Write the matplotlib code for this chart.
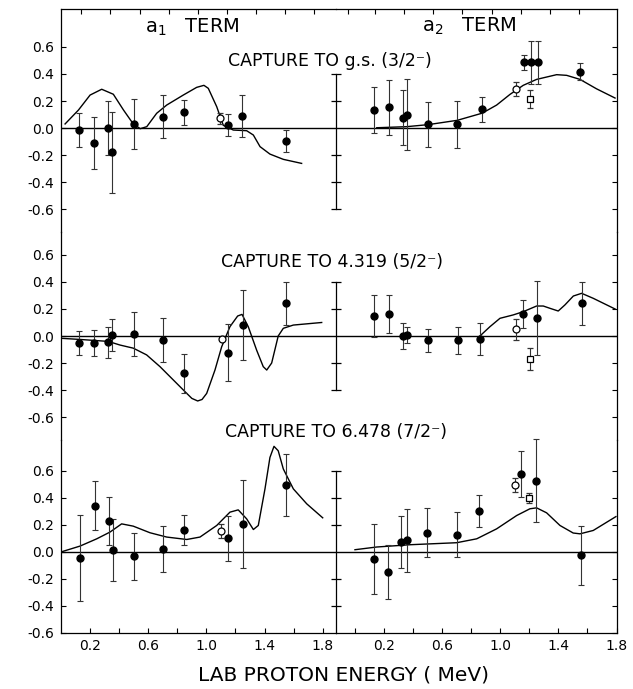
import matplotlib.pyplot as plt
import numpy as np

#*********************************************************************************
# values (energy in MeV, coefficient)
# --- capture to g.s. (3/2-) ---
gs_a1_E   = [0.124, 0.229, 0.325, 0.353, 0.502, 0.699, 0.846, 1.149, 1.247, 1.547]
gs_a1_y   = [-0.015, -0.11, 0.0, -0.18, 0.027, 0.084, 0.116, 0.025, 0.089, -0.096]
gs_a1_err = [0.125, 0.195, 0.2, 0.3, 0.185, 0.16, 0.09, 0.082, 0.152, 0.08]
gs_a1_oE, gs_a1_oy, gs_a1_oerr = [1.094], [0.072], [0.04]
gs_a1_sE, gs_a1_sy, gs_a1_serr = [], [], []
gs_a1_cE = [0.028, 0.12, 0.2, 0.28, 0.36, 0.43, 0.497, 0.545, 0.59, 0.658, 0.727, 0.841,
            0.933, 0.983, 1.013, 1.071, 1.116, 1.185, 1.277, 1.323, 1.369, 1.437, 1.529, 1.655]
gs_a1_cy = [0.03, 0.133, 0.244, 0.287, 0.25, 0.133, 0.03, -0.005, 0.01, 0.109, 0.17, 0.244,
            0.301, 0.316, 0.294, 0.158, 0.02, -0.015, -0.02, -0.052, -0.138, -0.193, -0.232, -0.262]

gs_a2_E   = [0.133, 0.236, 0.33, 0.356, 0.504, 0.704, 0.876, 1.165, 1.209, 1.257, 1.549]
gs_a2_y   = [0.133, 0.153, 0.077, 0.1, 0.027, 0.027, 0.138, 0.487, 0.487, 0.487, 0.417]
gs_a2_err = [0.168, 0.205, 0.205, 0.26, 0.168, 0.175, 0.092, 0.055, 0.158, 0.158, 0.062]
gs_a2_oE, gs_a2_oy, gs_a2_oerr = [1.106], [0.289], [0.05]
gs_a2_sE, gs_a2_sy, gs_a2_serr = [1.204], [0.212], [0.066]
gs_a2_cE = [0.15, 0.356, 0.504, 0.704, 0.876, 0.975, 1.067, 1.158, 1.25, 1.388, 1.457,
            1.549, 1.663, 1.79]
gs_a2_cy = [0.002, 0.01, 0.025, 0.057, 0.11, 0.17, 0.249, 0.316, 0.36, 0.395, 0.39,
            0.36, 0.29, 0.222]

# --- capture to 4.319 (5/2-) ---
s4_a1_E   = [0.124, 0.229, 0.325, 0.353, 0.502, 0.699, 0.848, 1.151, 1.25, 1.545]
s4_a1_y   = [-0.054, -0.054, -0.047, 0.007, 0.015, -0.03, -0.277, -0.123, 0.081, 0.242]
s4_a1_err = [0.09, 0.095, 0.113, 0.117, 0.163, 0.162, 0.143, 0.21, 0.26, 0.16]
s4_a1_oE, s4_a1_oy, s4_a1_oerr = [1.109], [-0.022], [0.0]
s4_a1_sE, s4_a1_sy, s4_a1_serr = [], [], []
s4_a1_cE = [0.0, 0.124, 0.325, 0.406, 0.497, 0.589, 0.681, 0.772, 0.865, 0.9, 0.94, 0.97,
            1.002, 1.059, 1.105, 1.162, 1.215, 1.245, 1.288, 1.346, 1.391, 1.415, 1.449,
            1.494, 1.529, 1.598, 1.793]
s4_a1_cy = [-0.017, -0.025, -0.04, -0.067, -0.09, -0.14, -0.227, -0.325, -0.425, -0.462, -0.481, -0.47,
            -0.425, -0.252, -0.08, 0.069, 0.148, 0.16, 0.069, -0.106, -0.227, -0.252, -0.2,
            0.0, 0.057, 0.081, 0.1]

s4_a2_E   = [0.133, 0.236, 0.33, 0.358, 0.504, 0.707, 0.86, 1.154, 1.253, 1.562]
s4_a2_y   = [0.148, 0.163, 0.0, 0.005, -0.03, -0.03, -0.022, 0.163, 0.131, 0.242]
s4_a2_err = [0.155, 0.143, 0.097, 0.058, 0.085, 0.1, 0.118, 0.103, 0.275, 0.16]
s4_a2_oE, s4_a2_oy, s4_a2_oerr = [1.108], [0.049], [0.075]
s4_a2_sE, s4_a2_sy, s4_a2_serr = [1.204], [-0.17], [0.084]
s4_a2_cE = [0.86, 0.929, 0.998, 1.089, 1.158, 1.25, 1.296, 1.342, 1.399, 1.445, 1.503,
            1.56, 1.64, 1.79]
s4_a2_cy = [0.0, 0.069, 0.131, 0.156, 0.18, 0.222, 0.222, 0.205, 0.185, 0.23, 0.296,
            0.316, 0.279, 0.2]

# --- capture to 6.478 (7/2-) ---
s6_a1_E   = [0.131, 0.234, 0.328, 0.358, 0.502, 0.699, 0.848, 1.151, 1.25, 1.547]
s6_a1_y   = [-0.044, 0.343, 0.227, 0.015, -0.035, 0.022, 0.163, 0.101, 0.207, 0.496]
s6_a1_err = [0.32, 0.18, 0.177, 0.23, 0.175, 0.17, 0.11, 0.168, 0.325, 0.232]
s6_a1_oE, s6_a1_oy, s6_a1_oerr = [1.098], [0.153], [0.052]
s6_a1_sE, s6_a1_sy, s6_a1_serr = [], [], []
s6_a1_cE = [0.005, 0.131, 0.246, 0.337, 0.417, 0.497, 0.612, 0.727, 0.865, 0.956, 1.071,
            1.162, 1.219, 1.277, 1.323, 1.357, 1.403, 1.437, 1.465, 1.494, 1.529, 1.598,
            1.69, 1.80]
s6_a1_cy = [0.0, 0.042, 0.096, 0.146, 0.207, 0.19, 0.141, 0.109, 0.091, 0.109, 0.195,
            0.294, 0.311, 0.244, 0.165, 0.195, 0.467, 0.70, 0.783, 0.75, 0.615, 0.467,
            0.356, 0.252]

s6_a2_E   = [0.133, 0.229, 0.319, 0.356, 0.498, 0.70, 0.851, 1.145, 1.246, 1.553]
s6_a2_y   = [-0.057, -0.151, 0.072, 0.084, 0.141, 0.126, 0.301, 0.578, 0.528, -0.027]
s6_a2_err = [0.26, 0.2, 0.195, 0.235, 0.183, 0.167, 0.12, 0.17, 0.31, 0.22]
s6_a2_oE, s6_a2_oy, s6_a2_oerr = [1.099], [0.496], [0.052]
s6_a2_sE, s6_a2_sy, s6_a2_serr = [1.198], [0.40], [0.035]
s6_a2_cE = [0.0, 0.149, 0.379, 0.70, 0.838, 0.975, 1.113, 1.204, 1.25, 1.319, 1.411,
            1.502, 1.549, 1.64, 1.796]
s6_a2_cy = [0.015, 0.035, 0.052, 0.067, 0.096, 0.17, 0.269, 0.319, 0.326, 0.289, 0.195,
            0.139, 0.133, 0.158, 0.261]

panel_titles = ['CAPTURE TO g.s. (3/2⁻)', 'CAPTURE TO 4.319 (5/2⁻)', 'CAPTURE TO 6.478 (7/2⁻)']
ytick_vals = [-0.6, -0.4, -0.2, 0.0, 0.2, 0.4, 0.6]
ytick_labels = ['-0.6', '-0.4', '-0.2', '0.0', '0.2', '0.4', '0.6']
xtick_labels = ['0.2', '0.6', '1.0', '1.4', '1.8']
top_ticks_a1 = [0.14, 0.34, 0.54, 0.74, 0.94, 1.14, 1.34, 1.54, 1.74]
top_ticks_a2 = [-0.05, 0.14, 0.34, 0.54, 0.74, 0.94, 1.14, 1.34, 1.54]
div_lo = [-0.6, -0.4, -0.6]
div_hi = [0.4, 0.4, 0.6]
div_ticks = [[0.4, 0.2, -0.2, -0.4, -0.6], [0.4, 0.2, -0.2, -0.4], [0.6, 0.4, 0.2, -0.2, -0.4]]

panels = [
   [(gs_a1_E, gs_a1_y, gs_a1_err, gs_a1_oE, gs_a1_oy, gs_a1_oerr, gs_a1_sE, gs_a1_sy, gs_a1_serr, gs_a1_cE, gs_a1_cy),
    (gs_a2_E, gs_a2_y, gs_a2_err, gs_a2_oE, gs_a2_oy, gs_a2_oerr, gs_a2_sE, gs_a2_sy, gs_a2_serr, gs_a2_cE, gs_a2_cy)],
   [(s4_a1_E, s4_a1_y, s4_a1_err, s4_a1_oE, s4_a1_oy, s4_a1_oerr, s4_a1_sE, s4_a1_sy, s4_a1_serr, s4_a1_cE, s4_a1_cy),
    (s4_a2_E, s4_a2_y, s4_a2_err, s4_a2_oE, s4_a2_oy, s4_a2_oerr, s4_a2_sE, s4_a2_sy, s4_a2_serr, s4_a2_cE, s4_a2_cy)],
   [(s6_a1_E, s6_a1_y, s6_a1_err, s6_a1_oE, s6_a1_oy, s6_a1_oerr, s6_a1_sE, s6_a1_sy, s6_a1_serr, s6_a1_cE, s6_a1_cy),
    (s6_a2_E, s6_a2_y, s6_a2_err, s6_a2_oE, s6_a2_oy, s6_a2_oerr, s6_a2_sE, s6_a2_sy, s6_a2_serr, s6_a2_cE, s6_a2_cy)],
]

#*********************************************************************************
# layout (figure fractions) and per-row y ranges
W, H = 633., 689.
row_px = [(8.5, 232.), (232., 440.), (440., 632.5)]
row_ylim = [(-0.77, 0.885), (-0.77, 0.77), (-0.6, 0.83)]
col_px = [(61., 335.5), (335.5, 616.5)]
col_xlim = [(0.0, 1.888), (-0.134, 1.8)]

plt.rcParams['font.family'] = 'DejaVu Sans'
fig = plt.figure(figsize=(W/100., H/100.), dpi=100)

for r in range(3):
   for c in range(2):
      x0, x1 = col_px[c]
      y0, y1 = row_px[r]
      ax = fig.add_axes([x0/W, 1-y1/H, (x1-x0)/W, (y1-y0)/H])
      ax.set_xlim(col_xlim[c])
      ax.set_ylim(row_ylim[r])
      ax.patch.set_alpha(0)
      for s in ax.spines.values():
         s.set_linewidth(0.9)
      ax.spines['top'].set_visible(r == 0)
      ax.spines['bottom'].set_visible(r == 2)
      ax.spines['right'].set_visible(c == 1)
      ax.spines['left'].set_visible(c == 0)

      E, y, err, oE, oy, oerr, sE, sy, serr, cE, cy = panels[r][c]
      ax.axhline(0, color='k', lw=1.0)
      ax.plot(cE, cy, color='k', lw=1.0)
      ax.errorbar(E, y, yerr=err, fmt='o', ms=5, mfc='k', mec='k', ecolor='#333333',
                  elinewidth=0.8, capsize=2.4, capthick=0.8, clip_on=False)
      if len(oE):
         ax.errorbar(oE, oy, yerr=oerr, fmt='o', ms=5, mfc='white', mec='k', mew=0.9,
                     ecolor='#333333', elinewidth=0.8, capsize=2.4, capthick=0.8)
      if len(sE):
         ax.errorbar(sE, sy, yerr=serr, fmt='s', ms=4, mfc='white', mec='k', mew=0.9,
                     ecolor='#333333', elinewidth=0.8, capsize=2.4, capthick=0.8)

      # y ticks
      ax.set_yticks(ytick_vals)
      if c == 0:
         ax.yaxis.set_ticks_position('left')
         ax.set_yticklabels(ytick_labels, fontsize=10)
      else:
         ax.yaxis.set_ticks_position('right')
         ax.set_yticklabels([])
      ax.tick_params(axis='y', direction='in', length=3.5, width=0.8, pad=5)

      # x ticks
      if r == 0:
         ax.set_xticks(top_ticks_a1 if c == 0 else top_ticks_a2)
         ax.xaxis.set_ticks_position('top')
         ax.set_xticklabels([])
      elif r == 2:
         ax.set_xticks(np.arange(0.2, 1.81, 0.2) if c == 0 else np.arange(0.0, 1.61, 0.2), minor=True)
         ax.set_xticks([0.2, 0.6, 1.0, 1.4, 1.8])
         ax.set_xticklabels(xtick_labels, fontsize=10)
         ax.xaxis.set_ticks_position('bottom')
      else:
         ax.set_xticks([])
      ax.tick_params(axis='x', which='both', direction='in', length=3.5, width=0.8, pad=5)

      # partial divider between the two columns
      if c == 1:
         xd = col_xlim[1][0]
         ax.plot([xd, xd], [div_lo[r], div_hi[r]], color='k', lw=0.9, clip_on=False)
         ax.plot([xd]*len(div_ticks[r]), div_ticks[r], ls='none', marker='_', ms=6.5,
                 mew=0.9, color='k', clip_on=False)

#*********************************************************************************
# labels
fig.text(192/W, 1-27/H, r'a$_1$   TERM', fontsize=14, ha='center', va='center')
fig.text(469/W, 1-26/H, r'a$_2$   TERM', fontsize=14, ha='center', va='center')
fig.text(330/W, 1-61/H, panel_titles[0], fontsize=12.5, ha='center', va='center')
fig.text(332/W, 1-262/H, panel_titles[1], fontsize=12.5, ha='center', va='center')
fig.text(336/W, 1-432/H, panel_titles[2], fontsize=12.5, ha='center', va='center')
fig.text(344/W, 1-675/H, 'LAB PROTON ENERGY ( MeV)', fontsize=14.5, ha='center', va='center')

plt.savefig('out.png', dpi=100)
plt.close()
